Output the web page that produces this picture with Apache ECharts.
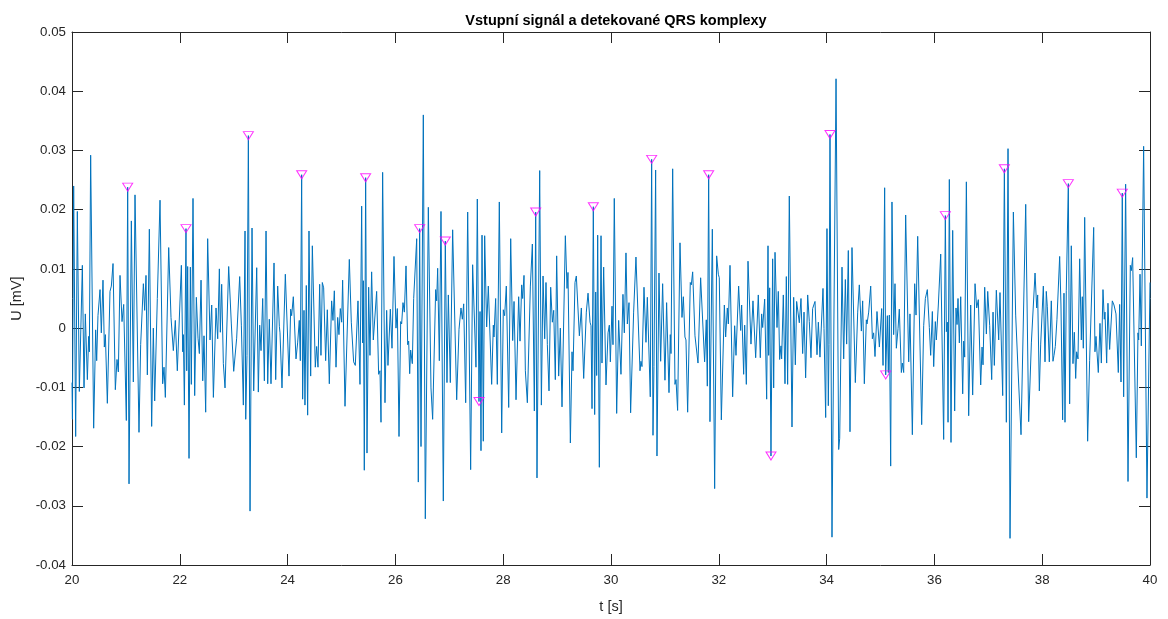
<!DOCTYPE html>
<html>
<head>
<meta charset="utf-8">
<title>Vstupní signál a detekované QRS komplexy</title>
<script src="https://cdn.jsdelivr.net/npm/echarts@6/dist/echarts.min.js"></script>
<style>
  html, body { margin: 0; padding: 0; background: #ffffff; overflow: hidden; }
  #chart { width: 100vw; height: 100vh; }
</style>
</head>
<body>
<div id="chart"></div>
<script>
// Input signal: sample times [s] and voltages [mV], listed in 2-second windows
const timeSec = [
  // 20-22 s
  20.000, 20.008, 20.031, 20.068, 20.099, 20.136, 20.192, 20.223, 20.247, 20.285, 20.309, 20.322, 20.346, 20.402, 20.439, 20.458, 20.482, 20.520, 20.544, 20.575, 20.600, 20.619, 20.656, 20.705, 20.730, 20.761, 20.804, 20.835, 20.860, 20.891, 20.928, 20.959, 21.008, 21.033, 21.058, 21.101, 21.138, 21.169, 21.243, 21.274, 21.324, 21.348, 21.373, 21.398, 21.435, 21.478, 21.509, 21.534, 21.583, 21.633, 21.682, 21.707, 21.732, 21.794, 21.837, 21.880, 21.917, 21.954, 22.029,
  // 22-24 s
  22.054, 22.066, 22.085, 22.115, 22.128, 22.146, 22.171, 22.196, 22.214, 22.245, 22.276, 22.307, 22.338, 22.363, 22.394, 22.425, 22.449, 22.480, 22.517, 22.561, 22.592, 22.623, 22.672, 22.703, 22.734, 22.752, 22.777, 22.808, 22.839, 22.907, 22.956, 23.000, 23.055, 23.080, 23.111, 23.142, 23.161, 23.179, 23.210, 23.223, 23.247, 23.272, 23.303, 23.340, 23.371, 23.427, 23.457, 23.482, 23.507, 23.538, 23.569, 23.600, 23.631, 23.661, 23.692, 23.748, 23.779, 23.816, 23.847, 23.859, 23.896, 23.958, 24.026,
  // 24-26 s
  24.057, 24.075, 24.106, 24.156, 24.186, 24.217, 24.236, 24.261, 24.279, 24.304, 24.322, 24.347, 24.372, 24.397, 24.428, 24.459, 24.514, 24.539, 24.564, 24.595, 24.619, 24.644, 24.669, 24.706, 24.737, 24.774, 24.817, 24.842, 24.867, 24.898, 24.929, 24.953, 24.978, 25.003, 25.021, 25.065, 25.145, 25.182, 25.225, 25.256, 25.306, 25.343, 25.374, 25.392, 25.405, 25.423, 25.448, 25.473, 25.504, 25.528, 25.559, 25.590, 25.652, 25.689, 25.714, 25.733, 25.763, 25.807, 25.838, 25.862, 25.906, 25.937, 25.974,
  // 26-28 s
  26.011, 26.036, 26.067, 26.098, 26.116, 26.141, 26.166, 26.197, 26.228, 26.246, 26.265, 26.283, 26.314, 26.339, 26.370, 26.395, 26.425, 26.450, 26.475, 26.518, 26.555, 26.611, 26.660, 26.691, 26.747, 26.766, 26.784, 26.815, 26.846, 26.889, 26.926, 26.957, 26.982, 27.019, 27.062, 27.137, 27.180, 27.217, 27.242, 27.267, 27.304, 27.341, 27.396, 27.433, 27.495, 27.520, 27.551, 27.570, 27.588, 27.607, 27.631, 27.656, 27.693, 27.724, 27.786, 27.817, 27.829, 27.860, 27.891, 27.928, 27.972, 28.002, 28.027,
  // 28-30 s
  28.058, 28.102, 28.139, 28.176, 28.201, 28.238, 28.287, 28.312, 28.343, 28.361, 28.386, 28.411, 28.448, 28.504, 28.541, 28.578, 28.603, 28.627, 28.677, 28.708, 28.739, 28.770, 28.794, 28.819, 28.850, 28.881, 28.912, 28.937, 28.967, 28.992, 29.029, 29.060, 29.091, 29.153, 29.184, 29.202, 29.246, 29.277, 29.295, 29.332, 29.357, 29.413, 29.450, 29.493, 29.542, 29.574, 29.611, 29.629, 29.648, 29.672, 29.697, 29.716, 29.734, 29.753, 29.784, 29.815, 29.833, 29.864, 29.907, 29.945, 29.969, 29.988, 30.019, 30.037,
  // 30-32 s
  30.061, 30.105, 30.142, 30.185, 30.222, 30.247, 30.278, 30.303, 30.334, 30.364, 30.420, 30.463, 30.538, 30.556, 30.575, 30.612, 30.649, 30.674, 30.729, 30.754, 30.779, 30.797, 30.828, 30.853, 30.890, 30.921, 30.958, 31.001, 31.032, 31.076, 31.100, 31.113, 31.144, 31.187, 31.206, 31.236, 31.280, 31.317, 31.342, 31.372, 31.391, 31.422, 31.471, 31.490, 31.515, 31.558, 31.614, 31.663, 31.737, 31.768, 31.787, 31.812, 31.836, 31.880, 31.923, 31.960, 31.991, 32.009, 32.047,
  // 32-34 s
  32.103, 32.127, 32.158, 32.177, 32.208, 32.257, 32.294, 32.319, 32.368, 32.406, 32.424, 32.461, 32.480, 32.511, 32.542, 32.597, 32.634, 32.684, 32.733, 32.770, 32.795, 32.814, 32.851, 32.888, 32.913, 32.925, 32.944, 32.968, 32.999, 33.018, 33.043, 33.080, 33.104, 33.129, 33.154, 33.166, 33.197, 33.228, 33.253, 33.277, 33.308, 33.358, 33.389, 33.420, 33.444, 33.494, 33.525, 33.556, 33.581, 33.611, 33.649, 33.679, 33.710, 33.741, 33.785, 33.822, 33.847, 33.877, 33.933, 33.952, 33.983, 34.007, 34.032,
  // 34-36 s
  34.045, 34.063, 34.100, 34.175, 34.224, 34.243, 34.286, 34.317, 34.348, 34.372, 34.403, 34.434, 34.471, 34.533, 34.577, 34.607, 34.645, 34.669, 34.700, 34.737, 34.750, 34.781, 34.818, 34.849, 34.873, 34.898, 34.935, 34.979, 35.022, 35.047, 35.077, 35.096, 35.127, 35.145, 35.164, 35.189, 35.213, 35.244, 35.269, 35.294, 35.325, 35.349, 35.387, 35.405, 35.430, 35.467, 35.523, 35.547, 35.591, 35.634, 35.659, 35.690, 35.764, 35.801, 35.832, 35.869, 35.906, 35.931, 35.962, 35.987, 36.017, 36.036,
  // 36-38 s
  36.073, 36.117, 36.172, 36.203, 36.222, 36.240, 36.253, 36.277, 36.308, 36.339, 36.376, 36.401, 36.420, 36.438, 36.463, 36.488, 36.525, 36.543, 36.562, 36.593, 36.636, 36.673, 36.710, 36.754, 36.785, 36.815, 36.859, 36.884, 36.902, 36.933, 36.964, 36.989, 37.026, 37.063, 37.088, 37.112, 37.149, 37.193, 37.217, 37.267, 37.298, 37.335, 37.366, 37.403, 37.465, 37.508, 37.551, 37.607, 37.694, 37.749, 37.799, 37.867, 37.898, 37.916, 37.947, 37.972, 37.997, 38.021, 38.052,
  // 38-40 s
  38.076, 38.095, 38.107, 38.132, 38.169, 38.200, 38.219, 38.243, 38.274, 38.324, 38.348, 38.379, 38.404, 38.423, 38.447, 38.485, 38.509, 38.540, 38.571, 38.596, 38.621, 38.639, 38.664, 38.695, 38.726, 38.744, 38.763, 38.788, 38.843, 38.880, 38.955, 38.979, 38.998, 39.041, 39.072, 39.097, 39.128, 39.152, 39.165, 39.196, 39.220, 39.251, 39.301, 39.332, 39.369, 39.412, 39.437, 39.462, 39.486, 39.511, 39.548, 39.592, 39.635, 39.653, 39.678, 39.746, 39.777, 39.790, 39.815, 39.839, 39.882, 39.944, 40.000
];

const voltage = [
  // 20-22 s
  -0.0092, -0.0154, 0.0240, -0.0183, 0.0197, -0.0107, 0.0106, -0.0101, 0.0024, -0.0087, -0.0014, -0.0040, 0.0292, -0.0169, -0.0003, -0.0055, 0.0021, 0.0065, -0.0008, 0.0081, -0.0032, -0.0011, -0.0127, 0.0062, 0.0071, 0.0109, -0.0104, -0.0053, -0.0074, 0.0089, 0.0011, 0.0040, -0.0156, 0.0238, -0.0263, 0.0181, -0.0091, 0.0225, -0.0176, -0.0028, 0.0075, 0.0030, 0.0089, -0.0079, 0.0167, -0.0166, 0.0000, -0.0123, 0.0050, 0.0216, -0.0094, -0.0066, -0.0117, 0.0136, 0.0018, -0.0038, 0.0013, -0.0072, 0.0106,
  // 22-24 s
  -0.0040, -0.0011, -0.0130, 0.0168, -0.0072, 0.0104, -0.0220, 0.0103, -0.0095, 0.0219, -0.0114, 0.0052, -0.0017, -0.0043, 0.0081, -0.0089, -0.0013, -0.0142, 0.0151, -0.0020, 0.0039, -0.0117, 0.0034, -0.0018, 0.0100, -0.0007, 0.0074, -0.0060, -0.0101, 0.0104, 0.0007, -0.0073, -0.0017, -0.0015, 0.0087, 0.0005, 0.0007, -0.0130, 0.0164, -0.0154, -0.0046, 0.0325, -0.0309, 0.0169, -0.0106, 0.0102, -0.0108, 0.0005, -0.0038, 0.0050, -0.0089, 0.0164, -0.0094, 0.0015, -0.0094, 0.0110, -0.0087, 0.0071, 0.0003, -0.0008, -0.0101, 0.0091, -0.0081,
  // 24-26 s
  0.0032, 0.0021, 0.0053, -0.0052, -0.0025, 0.0013, -0.0055, 0.0259, -0.0120, 0.0030, -0.0130, 0.0072, -0.0147, 0.0164, -0.0081, 0.0139, -0.0066, -0.0031, -0.0066, 0.0074, -0.0046, 0.0077, 0.0068, -0.0055, 0.0031, -0.0094, 0.0046, 0.0013, 0.0063, -0.0066, 0.0018, -0.0011, 0.0033, 0.0010, 0.0081, -0.0132, 0.0116, 0.0010, -0.0057, -0.0063, 0.0046, -0.0095, 0.0206, -0.0025, 0.0080, -0.0240, 0.0254, -0.0211, 0.0069, -0.0046, 0.0095, -0.0020, 0.0062, -0.0078, -0.0072, -0.0159, 0.0263, -0.0126, 0.0030, -0.0063, 0.0032, -0.0034, 0.0121,
  // 26-28 s
  0.0000, 0.0033, -0.0183, 0.0011, 0.0007, 0.0043, 0.0027, 0.0105, -0.0028, -0.0022, -0.0077, -0.0037, -0.0060, 0.0050, 0.0053, 0.0151, -0.0260, 0.0168, -0.0200, 0.0360, -0.0322, 0.0204, -0.0101, -0.0154, 0.0065, 0.0046, 0.0101, -0.0055, 0.0197, -0.0292, 0.0147, -0.0092, 0.0056, -0.0092, 0.0166, -0.0121, -0.0002, 0.0034, 0.0015, 0.0041, -0.0126, 0.0196, -0.0239, 0.0107, -0.0066, 0.0218, -0.0124, 0.0028, -0.0207, 0.0157, -0.0191, 0.0156, 0.0002, 0.0071, -0.0095, 0.0005, -0.0015, 0.0050, -0.0095, 0.0213, -0.0177, 0.0031, 0.0021,
  // 28-30 s
  0.0071, -0.0134, 0.0151, -0.0021, 0.0045, -0.0121, 0.0053, -0.0022, 0.0073, 0.0050, 0.0089, -0.0072, -0.0126, 0.0071, 0.0142, -0.0140, 0.0196, -0.0253, 0.0266, -0.0130, 0.0088, -0.0018, 0.0077, -0.0028, -0.0106, 0.0069, 0.0010, 0.0030, -0.0087, 0.0122, -0.0081, 0.0000, -0.0133, 0.0156, 0.0067, 0.0094, -0.0194, -0.0040, -0.0072, 0.0077, 0.0088, -0.0013, 0.0034, -0.0085, 0.0027, 0.0059, 0.0010, 0.0004, -0.0136, 0.0205, -0.0146, 0.0061, -0.0080, 0.0157, -0.0235, 0.0156, -0.0059, 0.0103, -0.0096, -0.0008, 0.0005, -0.0057, 0.0037, -0.0028,
  // 30-32 s
  0.0219, -0.0144, 0.0013, -0.0078, 0.0057, -0.0008, 0.0127, 0.0007, 0.0043, -0.0143, 0.0027, 0.0120, -0.0072, -0.0056, -0.0065, 0.0069, -0.0024, 0.0052, -0.0116, 0.0285, -0.0181, -0.0065, 0.0267, -0.0216, 0.0093, -0.0056, 0.0075, -0.0088, 0.0043, -0.0109, -0.0011, -0.0043, 0.0269, -0.0095, -0.0087, -0.0139, 0.0144, 0.0018, 0.0053, -0.0015, -0.0020, -0.0142, 0.0077, 0.0073, 0.0095, -0.0013, -0.0059, 0.0085, -0.0057, 0.0014, -0.0098, 0.0259, -0.0158, 0.0167, -0.0271, 0.0122, 0.0091, 0.0085, -0.0155,
  // 32-34 s
  0.0039, -0.0015, 0.0034, 0.0007, 0.0106, -0.0116, 0.0004, -0.0046, 0.0071, -0.0004, 0.0039, -0.0078, 0.0005, -0.0095, 0.0113, -0.0027, 0.0046, -0.0050, 0.0056, -0.0050, 0.0024, 0.0001, 0.0049, -0.0120, 0.0139, -0.0046, 0.0068, -0.0216, 0.0117, -0.0101, 0.0128, 0.0001, 0.0062, -0.0053, -0.0030, -0.0052, 0.0056, -0.0094, 0.0087, -0.0095, 0.0223, -0.0167, 0.0052, -0.0062, 0.0045, 0.0009, 0.0050, -0.0043, 0.0027, -0.0084, 0.0056, 0.0011, -0.0050, 0.0033, 0.0045, -0.0045, 0.0010, -0.0049, 0.0067, -0.0001, -0.0151, 0.0168, -0.0131,
  // 34-36 s
  -0.0028, 0.0327, -0.0353, 0.0421, -0.0205, -0.0186, 0.0103, -0.0052, 0.0082, -0.0027, 0.0131, -0.0175, 0.0136, -0.0092, 0.0027, 0.0073, -0.0005, 0.0046, -0.0094, 0.0014, 0.0007, 0.0027, 0.0071, -0.0018, -0.0008, -0.0048, 0.0028, -0.0032, 0.0033, -0.0063, 0.0237, -0.0079, 0.0021, -0.0075, 0.0022, -0.0233, 0.0213, -0.0011, 0.0075, -0.0034, -0.0001, 0.0032, -0.0075, -0.0059, -0.0075, 0.0191, -0.0057, 0.0024, -0.0180, 0.0075, 0.0022, 0.0155, -0.0163, 0.0004, 0.0050, 0.0065, 0.0001, -0.0046, 0.0028, -0.0065, 0.0011, -0.0020,
  // 36-38 s
  0.0039, 0.0125, -0.0188, 0.0190, -0.0006, 0.0010, -0.0159, 0.0251, -0.0193, 0.0165, -0.0140, 0.0034, 0.0006, 0.0050, -0.0025, 0.0053, -0.0111, -0.0022, -0.0049, 0.0247, -0.0148, 0.0039, -0.0113, 0.0075, 0.0034, 0.0048, -0.0096, -0.0032, -0.0062, 0.0069, -0.0010, 0.0062, 0.0004, -0.0087, 0.0027, -0.0063, 0.0064, -0.0020, 0.0060, -0.0114, 0.0269, -0.0159, 0.0303, -0.0355, 0.0196, 0.0022, -0.0069, -0.0180, 0.0209, -0.0158, -0.0025, 0.0093, 0.0034, 0.0056, -0.0106, -0.0027, -0.0028, 0.0071, -0.0057,
  // 38-40 s
  0.0062, 0.0036, 0.0039, -0.0057, 0.0046, -0.0056, -0.0046, -0.0031, 0.0015, 0.0121, 0.0039, -0.0155, 0.0059, -0.0159, 0.0063, 0.0244, -0.0128, 0.0139, -0.0060, -0.0007, -0.0085, -0.0040, -0.0052, 0.0117, -0.0020, 0.0053, -0.0034, 0.0187, -0.0191, -0.0055, 0.0170, -0.0040, -0.0014, -0.0075, 0.0008, -0.0059, 0.0065, 0.0015, 0.0027, -0.0059, 0.0042, -0.0036, 0.0046, 0.0039, 0.0024, -0.0075, 0.0040, -0.0091, 0.0228, -0.0116, 0.0243, -0.0259, 0.0106, 0.0097, 0.0119, -0.0219, -0.0008, -0.0020, 0.0091, -0.0030, 0.0307, -0.0287, 0.0077
];

// Detected QRS complexes: times [s] and signal values [mV]
const qrsTime = [21.033, 22.115, 23.272, 24.261, 25.448, 26.450, 26.926, 27.551, 28.603, 29.672,
                 30.754, 31.812, 32.968, 34.063, 35.096, 36.203, 37.298, 38.485, 39.486];
const qrsValue = [0.0238, 0.0168, 0.0325, 0.0259, 0.0254, 0.0168, 0.0147, -0.0124, 0.0196, 0.0205,
                  0.0285, 0.0259, -0.0216, 0.0327, -0.0079, 0.0190, 0.0269, 0.0244, 0.0228];

// Axis ranges and ticks
const tRange = [20, 40], tStep = 2;
const uRange = [-0.04, 0.05], uStep = 0.01;

const signalData = timeSec.map((t, i) => [t, voltage[i]]);
const qrsData = qrsTime.map((t, i) => [t, qrsValue[i]]);

const FONT = 'Arial, "Liberation Sans", Helvetica, sans-serif';
const AXIS_COLOR = '#262626';

// plot box: left 72, right edge 1150, top 32, bottom 571 (in a 1168 x 619 page)
const el = document.getElementById('chart');
const W = el.clientWidth || 1168;
const H = el.clientHeight || 619;
const box = { left: 72, top: 32, right: W - 1150, bottom: H - 571 };

function fmtU(v) {
  return Number(v.toFixed(2)).toString();
}

const baseX = {
  type: 'value', min: tRange[0], max: tRange[1], interval: tStep,
  axisLine: { show: true, onZero: false, lineStyle: { color: AXIS_COLOR, width: 1 } },
  axisTick: { show: true, inside: true, length: 11, lineStyle: { color: AXIS_COLOR, width: 1 } },
  splitLine: { show: false }
};
const baseY = {
  type: 'value', min: uRange[0], max: uRange[1], interval: uStep,
  axisLine: { show: true, onZero: false, lineStyle: { color: AXIS_COLOR, width: 1 } },
  axisTick: { show: true, inside: true, length: 11, lineStyle: { color: AXIS_COLOR, width: 1 } },
  splitLine: { show: false }
};

const chart = echarts.init(el, null, { renderer: 'canvas' });
chart.setOption({
  backgroundColor: '#ffffff',
  animation: false,
  title: {
    text: 'Vstupní signál a detekované QRS komplexy',
    left: 611, top: 8, textAlign: 'center',
    textStyle: { fontFamily: FONT, fontSize: 14.5, fontWeight: 'bold', color: '#000000' }
  },
  grid: Object.assign({ containLabel: false }, box),
  xAxis: [
    Object.assign({}, baseX, {
      position: 'bottom',
      name: 't [s]', nameLocation: 'middle', nameGap: 34,
      nameTextStyle: { fontFamily: FONT, fontSize: 14.5, color: AXIS_COLOR },
      axisLabel: { show: true, margin: 9, fontFamily: FONT, fontSize: 13.3, color: AXIS_COLOR,
                   formatter: v => String(v) }
    }),
    Object.assign({}, baseX, { position: 'top', axisLabel: { show: false } })
  ],
  yAxis: [
    Object.assign({}, baseY, {
      position: 'left',
      name: 'U [mV]', nameLocation: 'middle', nameGap: 46, nameRotate: 90,
      nameTextStyle: { fontFamily: FONT, fontSize: 14.5, color: AXIS_COLOR },
      axisLabel: { show: true, margin: 6, fontFamily: FONT, fontSize: 13.3, color: AXIS_COLOR,
                   formatter: fmtU }
    }),
    Object.assign({}, baseY, { position: 'right', axisLabel: { show: false } })
  ],
  series: [
    {
      name: 'signal', type: 'line', xAxisIndex: 0, yAxisIndex: 0,
      data: signalData, showSymbol: false, symbol: 'none',
      lineStyle: { color: '#0072BD', width: 1 },
      z: 2
    },
    {
      name: 'QRS', type: 'scatter', xAxisIndex: 0, yAxisIndex: 0,
      data: qrsData, symbol: 'triangle', symbolRotate: 180, symbolSize: [10, 8],
      itemStyle: { color: 'rgba(0,0,0,0)', borderColor: '#FF00FF', borderWidth: 1 },
      z: 3
    }
  ]
});
</script>
</body>
</html>
